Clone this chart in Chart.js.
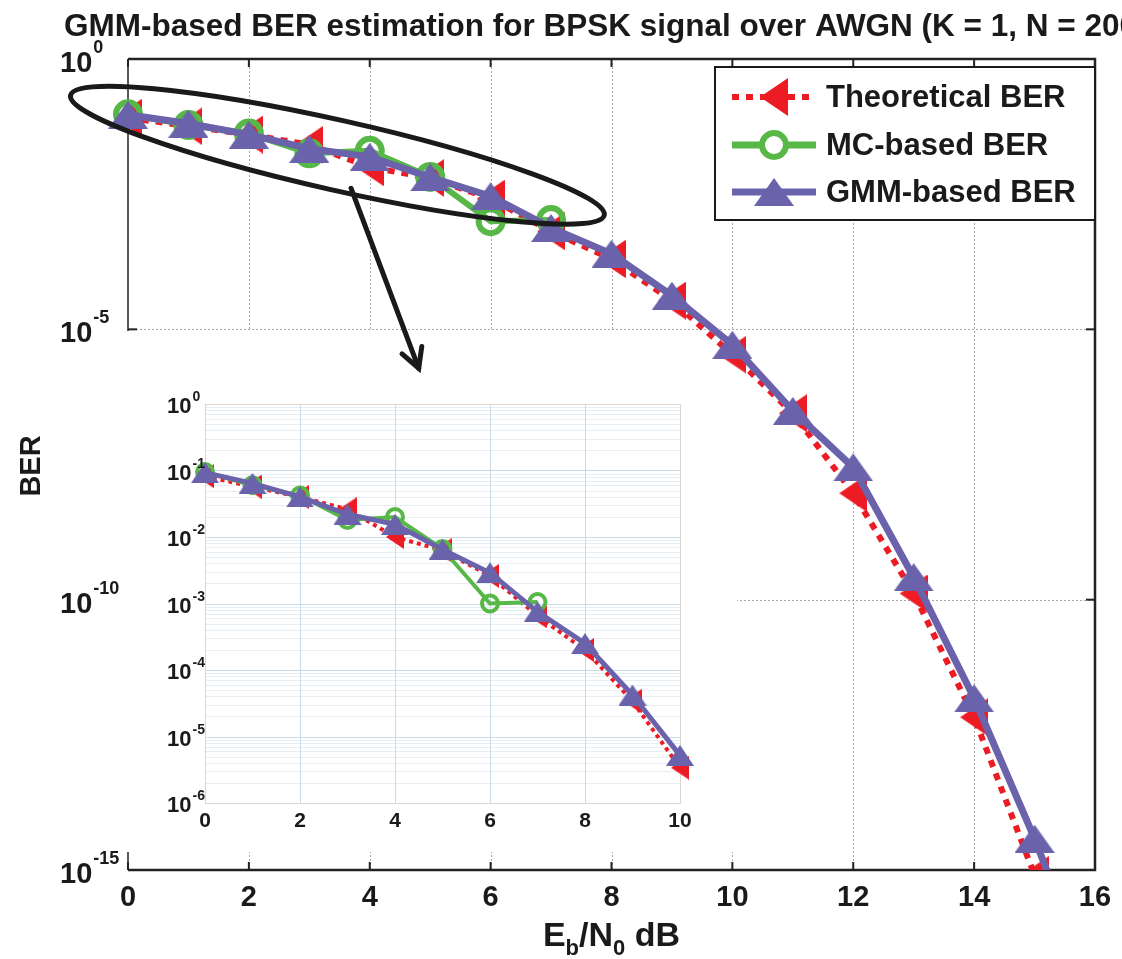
<!DOCTYPE html>
<html>
<head>
<meta charset="utf-8">
<script src="https://cdn.jsdelivr.net/npm/chart.js@4.4.1/dist/chart.umd.min.js"></script>
<style>
  html, body { margin: 0; padding: 0; background: #fff; }
  #wrap { position: relative; width: 1122px; height: 959px; overflow: hidden; }
  #mainChart { position: absolute; left: 0; top: 0; }
  #insetChart { position: absolute; left: 150px; top: 385px; }
</style>
</head>
<body>
<div id="wrap">
  <canvas id="mainChart" width="1122" height="959"></canvas>
  <canvas id="insetChart" width="550" height="465"></canvas>
</div>
<script>
// Eb/N0 in dB
var ebn0 = [0, 1, 2, 3, 4, 5, 6, 7, 8, 9, 10, 11, 12, 13, 14, 15, 16];
// BER values
var theoryBer = [0.082, 0.057, 0.040, 0.026, 0.010, 0.0063, 0.0026, 6.5e-4, 2.0e-4, 3.4e-5, 3.4e-6, 2.8e-7, 9.3e-9, 1.3e-10, 6.7e-13, 8e-16, 2e-19];
var mcBer = [0.095, 0.060, 0.042, 0.018, 0.020, 0.0066, 1.0e-3, 1.05e-3];
var gmmBer = [0.093, 0.064, 0.040, 0.022, 0.0155, 0.0065, 0.0029, 7.5e-4, 2.5e-4, 4.2e-5, 5.2e-6, 3.1e-7, 2.8e-8, 2.6e-10, 1.5e-12, 3.8e-15, 5e-18];

var xTicks = [0, 2, 4, 6, 8, 10, 12, 14, 16];
var yTickExps = [0, -5, -10, -15];
var insetXTicks = [0, 2, 4, 6, 8, 10];
var insetYExps = [0, -1, -2, -3, -4, -5, -6];

var labels = ['Theoretical BER', 'MC-based BER', 'GMM-based BER'];
var RED = '#ed1c24', GREEN = '#57b847', PURPLE = '#6a62ab';
var FONT = '"Liberation Sans", Arial, sans-serif';

function triangle(w, h, color, dir) {
  var c = document.createElement('canvas');
  c.width = w; c.height = h;
  var g = c.getContext('2d');
  g.fillStyle = color;
  g.beginPath();
  if (dir === 'up') { g.moveTo(w / 2, 0); g.lineTo(w, h); g.lineTo(0, h); }
  else { g.moveTo(0, h / 2); g.lineTo(w, 0); g.lineTo(w, h); }
  g.closePath();
  g.fill();
  return c;
}

function pts(arr, maxX) {
  var out = [];
  for (var i = 0; i < arr.length; i++) {
    if (maxX === undefined || ebn0[i] <= maxX) out.push({ x: ebn0[i], y: arr[i] });
  }
  return out;
}

function power(ctx, exp, x, y, big, small, rise) {
  ctx.textAlign = 'left';
  ctx.textBaseline = 'alphabetic';
  ctx.font = 'bold ' + big + 'px ' + FONT;
  ctx.fillText('10', x, y);
  var w = ctx.measureText('10').width;
  ctx.font = 'bold ' + small + 'px ' + FONT;
  ctx.fillText(String(exp), x + w + 1, y - rise);
}

// ---------- main chart ----------
var mainMarks = {
  red: triangle(28, 38, RED, 'left'),
  purple: triangle(40, 28, PURPLE, 'up')
};

var mainDecor = {
  id: 'mainDecor',
  beforeDraw: function (chart) {
    var ctx = chart.ctx;
    ctx.save();
    ctx.fillStyle = '#fff';
    ctx.fillRect(0, 0, chart.width, chart.height);
    ctx.restore();
  },
  beforeDatasetsDraw: function (chart) {
    var ctx = chart.ctx, a = chart.chartArea, xs = chart.scales.x, ys = chart.scales.y;
    ctx.save();
    // dotted grid
    ctx.strokeStyle = '#a8a8a8';
    ctx.lineWidth = 1;
    ctx.setLineDash([2, 2]);
    xTicks.forEach(function (t) {
      if (t === 0 || t === 16) return;
      var px = Math.round(xs.getPixelForValue(t)) + 0.5;
      ctx.beginPath(); ctx.moveTo(px, a.top); ctx.lineTo(px, a.bottom); ctx.stroke();
    });
    yTickExps.forEach(function (e) {
      if (e === 0 || e === -15) return;
      var py = Math.round(ys.getPixelForValue(Math.pow(10, e))) + 0.5;
      ctx.beginPath(); ctx.moveTo(a.left, py); ctx.lineTo(a.right, py); ctx.stroke();
    });
    ctx.setLineDash([]);
    // box
    ctx.strokeStyle = '#222';
    ctx.lineWidth = 1.5;
    ctx.beginPath(); ctx.moveTo(a.left, a.top); ctx.lineTo(a.left, a.bottom); ctx.stroke();
    ctx.lineWidth = 2.5;
    ctx.beginPath();
    ctx.moveTo(a.left, a.top); ctx.lineTo(a.right, a.top);
    ctx.lineTo(a.right, a.bottom); ctx.lineTo(a.left, a.bottom);
    ctx.stroke();
    // inward ticks
    ctx.lineWidth = 2;
    xTicks.forEach(function (t) {
      var px = xs.getPixelForValue(t);
      ctx.beginPath(); ctx.moveTo(px, a.top); ctx.lineTo(px, a.top + 8); ctx.stroke();
      ctx.beginPath(); ctx.moveTo(px, a.bottom); ctx.lineTo(px, a.bottom - 8); ctx.stroke();
    });
    yTickExps.forEach(function (e) {
      var py = ys.getPixelForValue(Math.pow(10, e));
      ctx.beginPath(); ctx.moveTo(a.left, py); ctx.lineTo(a.left + 9, py); ctx.stroke();
      ctx.beginPath(); ctx.moveTo(a.right, py); ctx.lineTo(a.right - 9, py); ctx.stroke();
    });
    // white area behind the inset picture
    ctx.fillStyle = '#fff';
    ctx.fillRect(122, 331, 737 - 122, 852 - 331);
    ctx.restore();
  },
  afterDraw: function (chart) {
    var ctx = chart.ctx, a = chart.chartArea, xs = chart.scales.x, ys = chart.scales.y;
    ctx.save();
    ctx.fillStyle = '#1a1a1a';
    // title (runs off the right edge like the original)
    ctx.font = 'bold 31.5px ' + FONT;
    ctx.textAlign = 'left';
    ctx.textBaseline = 'alphabetic';
    ctx.fillText('GMM-based BER estimation for BPSK signal over AWGN (K = 1, N = 2000)', 64, 36);
    // y tick labels
    yTickExps.forEach(function (e) {
      var py = ys.getPixelForValue(Math.pow(10, e));
      power(ctx, e, 60, py + 13, 29, 18, 19);
    });
    // x tick labels
    ctx.font = 'bold 29px ' + FONT;
    ctx.textAlign = 'center';
    xTicks.forEach(function (t) {
      ctx.fillText(String(t), xs.getPixelForValue(t), 906);
    });
    // x title  E_b/N_0 dB
    var big = 'bold 34px ' + FONT, sub = 'bold 22px ' + FONT;
    var parts = [['E', big, 0], ['b', sub, 9], ['/N', big, 0], ['0', sub, 9], [' dB', big, 0]];
    var total = 0;
    parts.forEach(function (p) { ctx.font = p[1]; total += ctx.measureText(p[0]).width; });
    var cx = (a.left + a.right) / 2 - total / 2;
    ctx.textAlign = 'left';
    parts.forEach(function (p) {
      ctx.font = p[1];
      ctx.fillText(p[0], cx, 946 + p[2]);
      cx += ctx.measureText(p[0]).width;
    });
    // y title
    ctx.save();
    ctx.translate(40, 466);
    ctx.rotate(-Math.PI / 2);
    ctx.font = 'bold 29px ' + FONT;
    ctx.textAlign = 'center';
    ctx.fillText('BER', 0, 0);
    ctx.restore();

    // ellipse around the low-SNR region
    var p1x = xs.getPixelForValue(-0.95), p1y = ys.getPixelForValue(Math.pow(10, -0.67));
    var p2x = xs.getPixelForValue(7.88), p2y = ys.getPixelForValue(Math.pow(10, -2.89));
    var ecx = (p1x + p2x) / 2, ecy = (p1y + p2y) / 2;
    var ea = Math.hypot(p2x - p1x, p2y - p1y) / 2;
    var rot = Math.atan2(p2y - p1y, p2x - p1x);
    ctx.strokeStyle = '#1a1a1a';
    ctx.lineWidth = 5;
    ctx.beginPath();
    ctx.ellipse(ecx, ecy, ea, 35, rot, 0, Math.PI * 2);
    ctx.stroke();
    // arrow toward the inset
    var sx = xs.getPixelForValue(3.69), sy = ys.getPixelForValue(Math.pow(10, -2.39));
    var tx = xs.getPixelForValue(4.81), ty = ys.getPixelForValue(Math.pow(10, -5.72));
    ctx.lineCap = 'round';
    ctx.beginPath(); ctx.moveTo(sx, sy); ctx.lineTo(tx, ty); ctx.stroke();
    var ang = Math.atan2(ty - sy, tx - sx);
    ctx.beginPath();
    ctx.moveTo(tx - 22 * Math.cos(ang - 0.5), ty - 22 * Math.sin(ang - 0.5));
    ctx.lineTo(tx, ty);
    ctx.lineTo(tx - 22 * Math.cos(ang + 0.5), ty - 22 * Math.sin(ang + 0.5));
    ctx.stroke();

    // legend
    var lx = 715, ly = 67, lw = 380, lh = 153;
    ctx.fillStyle = '#fff';
    ctx.fillRect(lx, ly, lw, lh);
    ctx.lineWidth = 2;
    ctx.lineCap = 'butt';
    ctx.strokeRect(lx, ly, lw, lh);
    var rows = [97, 145, 192];
    rows.forEach(function (ry, i) {
      ctx.lineWidth = i === 0 ? 6 : 7;
      ctx.strokeStyle = [RED, GREEN, PURPLE][i];
      ctx.setLineDash(i === 0 ? [7, 7] : []);
      ctx.beginPath(); ctx.moveTo(732, ry); ctx.lineTo(816, ry); ctx.stroke();
      ctx.setLineDash([]);
      if (i === 0) ctx.drawImage(mainMarks.red, 774 - 14, ry - 19);
      if (i === 2) ctx.drawImage(mainMarks.purple, 774 - 20, ry - 14);
      if (i === 1) {
        ctx.lineWidth = 6;
        ctx.fillStyle = '#fff';
        ctx.beginPath(); ctx.arc(774, ry, 12, 0, Math.PI * 2); ctx.fill(); ctx.stroke();
      }
      ctx.fillStyle = '#1a1a1a';
      ctx.font = 'bold 31px ' + FONT;
      ctx.textAlign = 'left';
      ctx.textBaseline = 'middle';
      ctx.fillText(labels[i], 826, ry + 1);
    });
    ctx.restore();
  }
};

new Chart(document.getElementById('mainChart'), {
  type: 'line',
  data: {
    datasets: [
      {
        label: labels[0], data: pts(theoryBer), order: 3,
        borderColor: RED, borderWidth: 6, borderDash: [7, 7], borderCapStyle: 'butt',
        pointStyle: mainMarks.red, pointRadius: 19,
        clip: { left: 30, top: 30, right: 30, bottom: 0 }
      },
      {
        label: labels[1], data: pts(mcBer), order: 2,
        borderColor: GREEN, borderWidth: 6,
        pointStyle: 'circle', pointRadius: 12, pointBorderWidth: 6,
        pointBorderColor: GREEN, pointBackgroundColor: 'rgba(0,0,0,0)',
        clip: { left: 30, top: 30, right: 30, bottom: 0 }
      },
      {
        label: labels[2], data: pts(gmmBer), order: 1,
        borderColor: PURPLE, borderWidth: 7,
        pointStyle: mainMarks.purple, pointRadius: 20,
        clip: { left: 30, top: 30, right: 30, bottom: 0 }
      }
    ]
  },
  options: {
    responsive: false,
    animation: false,
    events: [],
    layout: { padding: { left: 128, top: 59, right: 22, bottom: 89 } },
    elements: { line: { tension: 0, fill: false } },
    scales: {
      x: { type: 'linear', min: 0, max: 16, display: false },
      y: { type: 'logarithmic', min: 1e-15, max: 1, display: false }
    },
    plugins: { legend: { display: false }, tooltip: { enabled: false } }
  },
  plugins: [mainDecor]
});

// ---------- inset chart (zoom of the circled part) ----------
var insetMarks = {
  red: triangle(18, 24, RED, 'left'),
  purple: triangle(28, 21, PURPLE, 'up')
};

var insetDecor = {
  id: 'insetDecor',
  beforeDraw: function (chart) {
    var ctx = chart.ctx;
    ctx.save();
    ctx.fillStyle = '#fff';
    ctx.fillRect(0, 0, chart.width, chart.height);
    ctx.restore();
  },
  beforeDatasetsDraw: function (chart) {
    var ctx = chart.ctx, a = chart.chartArea, xs = chart.scales.x, ys = chart.scales.y;
    ctx.save();
    ctx.lineWidth = 1;
    // minor log grid
    ctx.strokeStyle = '#e4eef4';
    for (var e = -6; e < 0; e++) {
      for (var k = 2; k <= 9; k++) {
        var py = Math.round(ys.getPixelForValue(k * Math.pow(10, e))) + 0.5;
        ctx.beginPath(); ctx.moveTo(a.left, py); ctx.lineTo(a.right, py); ctx.stroke();
      }
    }
    // major grid
    ctx.strokeStyle = '#c8dbe6';
    insetYExps.forEach(function (e) {
      var py = Math.round(ys.getPixelForValue(Math.pow(10, e))) + 0.5;
      ctx.beginPath(); ctx.moveTo(a.left, py); ctx.lineTo(a.right, py); ctx.stroke();
    });
    insetXTicks.forEach(function (t) {
      var px = Math.round(xs.getPixelForValue(t)) + 0.5;
      ctx.beginPath(); ctx.moveTo(px, a.top); ctx.lineTo(px, a.bottom); ctx.stroke();
    });
    ctx.strokeStyle = '#dcd6d2';
    ctx.strokeRect(a.left + 0.5, a.top + 0.5, a.right - a.left, a.bottom - a.top);
    ctx.restore();
  },
  afterDraw: function (chart) {
    var ctx = chart.ctx, xs = chart.scales.x, ys = chart.scales.y;
    ctx.save();
    ctx.fillStyle = '#1a1a1a';
    insetYExps.forEach(function (e) {
      var py = ys.getPixelForValue(Math.pow(10, e));
      power(ctx, e, 17, py + 9, 22, 14, 12);
    });
    ctx.font = 'bold 21px ' + FONT;
    ctx.textAlign = 'center';
    ctx.textBaseline = 'alphabetic';
    insetXTicks.forEach(function (t) {
      ctx.fillText(String(t), xs.getPixelForValue(t), 442);
    });
    ctx.restore();
  }
};

new Chart(document.getElementById('insetChart'), {
  type: 'line',
  data: {
    datasets: [
      {
        label: labels[0], data: pts(theoryBer, 10), order: 3,
        borderColor: RED, borderWidth: 4, borderDash: [4, 4], borderCapStyle: 'butt',
        pointStyle: insetMarks.red, pointRadius: 12, clip: 20
      },
      {
        label: labels[1], data: pts(mcBer, 10), order: 2,
        borderColor: GREEN, borderWidth: 4,
        pointStyle: 'circle', pointRadius: 8, pointBorderWidth: 4,
        pointBorderColor: GREEN, pointBackgroundColor: 'rgba(0,0,0,0)', clip: 20
      },
      {
        label: labels[2], data: pts(gmmBer, 10), order: 1,
        borderColor: PURPLE, borderWidth: 5,
        pointStyle: insetMarks.purple, pointRadius: 14, clip: 20
      }
    ]
  },
  options: {
    responsive: false,
    animation: false,
    events: [],
    layout: { padding: { left: 55, top: 17, right: 20, bottom: 47 } },
    elements: { line: { tension: 0, fill: false } },
    scales: {
      x: { type: 'linear', min: 0, max: 10, display: false },
      y: { type: 'logarithmic', min: 1e-6, max: 1, display: false }
    },
    plugins: { legend: { display: false }, tooltip: { enabled: false } }
  },
  plugins: [insetDecor]
});
</script>
</body>
</html>
